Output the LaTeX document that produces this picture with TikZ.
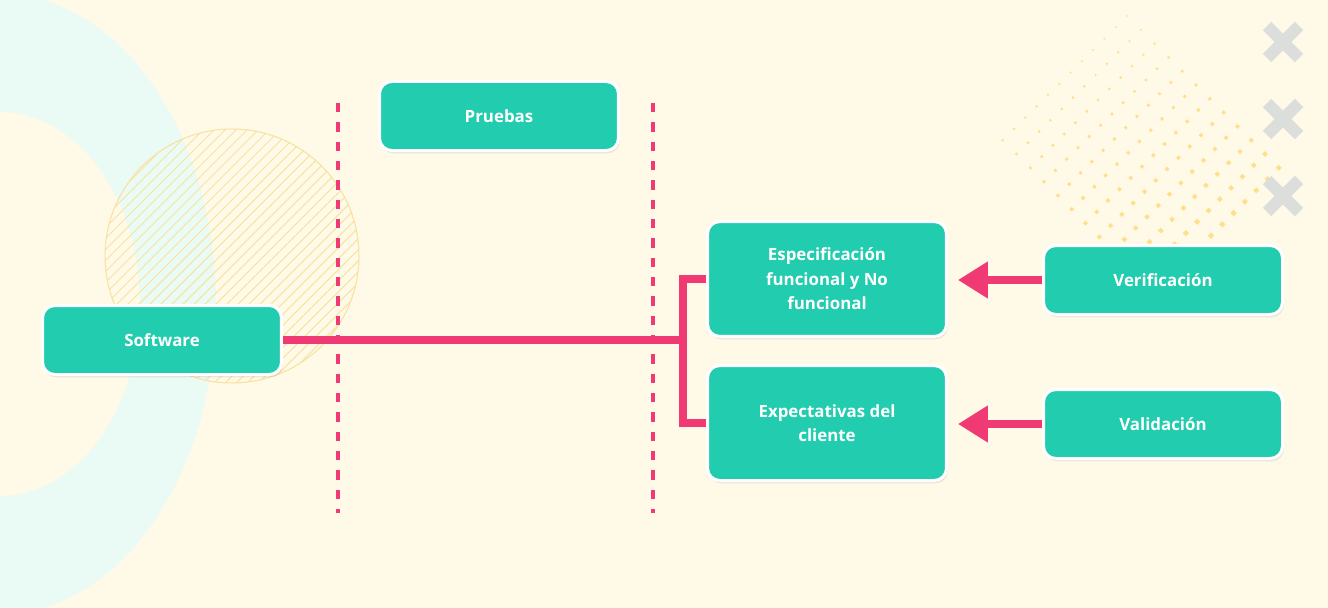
\documentclass[tikz,border=0pt]{standalone}
\usepackage{fontspec}
\setmainfont{Open Sans}
\usetikzlibrary{arrows.meta,shadows}

\definecolor{bgcream}{RGB}{255,249,232}
\definecolor{ringcyan}{RGB}{234,250,244}
\definecolor{hatchyellow}{RGB}{248,226,160}
\definecolor{dotyellow}{RGB}{255,224,138}
\definecolor{xgray}{RGB}{220,222,220}
\definecolor{boxteal}{RGB}{34,204,174}
\definecolor{linkpink}{RGB}{240,58,115}

\begin{document}
\begin{tikzpicture}[
  x=0.02cm, y=-0.02cm,
  box/.style={rectangle, draw=white, line width=1.7pt, fill=boxteal, rounded corners=7pt, align=center, text=white, font=\bfseries\fontsize{9.6}{13.9}\selectfont, minimum width=4.78cm, minimum height=1.38cm, drop shadow={opacity=0.15, shadow xshift=0.8pt, shadow yshift=-1.6pt}},
  link/.style={draw=linkpink, line width=4pt},
  arrow/.style={link, -{Triangle[length=17pt, width=20pt]}, shorten >=5.7pt},
  guide/.style={draw=linkpink, line width=2.8pt, dash pattern=on 5.3pt off 5.7pt},
  hatch/.style={draw=hatchyellow, line width=0.6pt},
  cross/.style={draw=xgray, line width=6.8pt},
]

% === BACKGROUND ===
\useasboundingbox (0,0) rectangle (1328,608);
\fill[bgcream] (0,0) rectangle (1328,608);

\begin{scope}
  \clip (0,0) rectangle (1328,608);
  \fill[ringcyan, even odd rule] (0,304) ellipse [x radius=4.32cm, y radius=6.2cm]
    (0,304) ellipse [x radius=2.8cm, y radius=3.84cm];
\end{scope}

% hatched circle behind Software
\begin{scope}
  \clip (232,256) circle [radius=2.54cm];
  \foreach \c in {300,311,...,690}
    \draw[hatch] (\c,0) -- ++(-520,520);
\end{scope}
\draw[hatch] (232,256) circle [radius=2.54cm];

% dotted diamond, top right
\foreach \i in {0,...,11}
  \foreach \j in {0,...,11} {
    \pgfmathsetmacro\s{1+0.18*\j+0.04*\i}
    \fill[dotyellow] (1127-11.3*\i+13.8*\j, 16+11.3*\i+13.8*\j)
      +(0,-\s) -- +(\s,0) -- +(0,\s) -- +(-\s,0) -- cycle;
  }

% crosses
\foreach \yy in {42,119,196} {
  \draw[cross] (1267,\yy-16) -- (1299,\yy+16);
  \draw[cross] (1267,\yy+16) -- (1299,\yy-16);
}

% === BOXES ===
\node[box] (prue) at (499,116) {Pruebas};
\node[box] (soft) at (162,340) {Software};
\node[box, minimum height=2.3cm] (espec) at (827,279) {Especificación\\funcional y No\\funcional};
\node[box, minimum height=2.3cm] (expec) at (827,423) {Expectativas del\\cliente};
\node[box] (veri) at (1163,280) {Verificación};
\node[box] (vali) at (1163,424) {Validación};

% === LINKS ===
\coordinate (fork) at (683,340);
\draw[link] (soft.east) -- (fork);
\draw[link] (espec.west) -| (fork) |- (expec.west);
\draw[arrow] (veri.west) -- (veri.west -| espec.east);
\draw[arrow] (vali.west) -- (vali.west -| expec.east);

% test limits
\coordinate (g1top) at (338,103);
\coordinate (g1bot) at (338,513);
\coordinate (g2top) at (653,103);
\coordinate (g2bot) at (653,513);
\draw[guide] (g1top) -- (g1bot);
\draw[guide] (g2top) -- (g2bot);
\end{tikzpicture}
\end{document}
